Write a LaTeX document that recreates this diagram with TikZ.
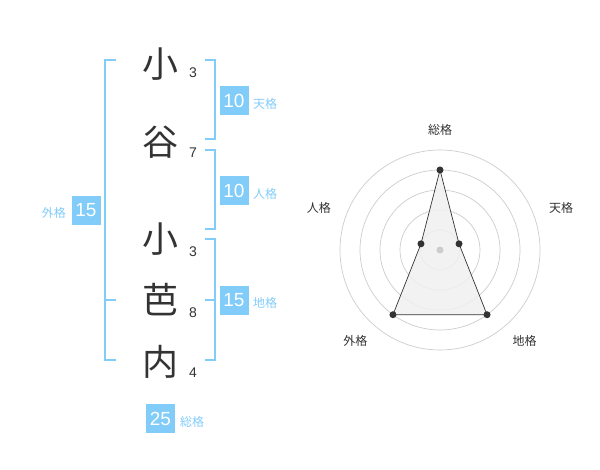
\documentclass[tikz,border=0pt]{standalone}
\usepackage{fontspec}
\setmainfont{Liberation Sans}
\newfontfamily\jpfont{Noto Sans CJK JP}
\usetikzlibrary{calc}
\definecolor{kakublue}{RGB}{130,204,250}
\definecolor{inkgray}{RGB}{51,51,51}
\definecolor{ringgray}{RGB}{204,204,204}
\definecolor{areagray}{RGB}{240,240,240}

\begin{document}
\begin{tikzpicture}[
    x=1pt, y=1pt,
    kanji/.style={inner sep=0pt, text=inkgray, font=\jpfont\fontsize{36}{36}\selectfont},
    stroke/.style={inner sep=0pt, text=inkgray, font=\fontsize{14}{14}\selectfont},
    bracket/.style={draw=kakublue, line width=2pt},
    kakubox/.style={fill=kakublue, text=white, minimum size=29pt, inner sep=0pt, font=\fontsize{19}{19}\selectfont},
    kakulabel/.style={inner sep=0pt, text=kakublue, font=\jpfont\fontsize{12}{12}\selectfont},
    radarlabel/.style={inner sep=0pt, text=inkgray, font=\jpfont\fontsize{12}{12}\selectfont},
    dot/.style={circle, fill=inkgray, inner sep=0pt, minimum size=7pt}
]
\useasboundingbox (0,0) rectangle (600,470);

\node[kanji] (sho) at (160,406) {小};
\node[kanji] (tani) at (160,328) {谷};
\node[kanji] (ko) at (160,231) {小};
\node[kanji] (ba) at (160,170) {芭};
\node[kanji] (nai) at (160,108) {内};

\node[stroke] (n1) at (193,397) {3};
\node[stroke] (n2) at (193,317) {7};
\node[stroke] (n3) at (193,218) {3};
\node[stroke] (n4) at (193,157) {8};
\node[stroke] (n5) at (193,97) {4};

\draw[bracket] (205,410) -- (215,410) -- (215,330.5) -- (205,330.5);
\draw[bracket] (205,320) -- (215,320) -- (215,240.5) -- (205,240.5);
\draw[bracket] (205,230.5) -- (215,230.5) -- (215,110) -- (205,110);
\draw[bracket] (205,170) -- (215,170);
\draw[bracket] (116,410) -- (105,410) -- (105,110) -- (116,110);
\draw[bracket] (105,170) -- (116,170);

\node[kakubox] (ten) at (234,369.5) {10};
\node[kakulabel, anchor=west] (tenl) at (253,366) {天格};
\node[kakubox] (jin) at (234,279.5) {10};
\node[kakulabel, anchor=west] (jinl) at (253,276) {人格};
\node[kakubox] (chi) at (234,169.5) {15};
\node[kakulabel, anchor=west] (chil) at (253,167) {地格};
\node[kakubox] (gai) at (86,259.5) {15};
\node[kakulabel, anchor=east] (gail) at (66,257) {外格};
\node[kakubox] (sou) at (160.5,51) {25};
\node[kakulabel, anchor=west] (soul) at (180,48) {総格};

\coordinate (o) at (440,220);
\foreach \r in {20,40,60,80,100}
    \draw[ringgray, line width=0.7pt] (o) circle (\r);

\coordinate (p1) at ($(o)+(90:80)$);
\coordinate (p2) at ($(o)+(18:20)$);
\coordinate (p3) at ($(o)+(-54:80)$);
\coordinate (p4) at ($(o)+(-126:80)$);
\coordinate (p5) at ($(o)+(162:20)$);
\draw[fill=areagray, fill opacity=0.85, draw=inkgray, line width=0.7pt] (p1) -- (p2) -- (p3) -- (p4) -- (p5) -- cycle;
\fill[ringgray] (o) circle (3.5);
\node[dot] (d1) at (p1) {};
\node[dot] (d2) at (p2) {};
\node[dot] (d3) at (p3) {};
\node[dot] (d4) at (p4) {};
\node[dot] (d5) at (p5) {};

\node[radarlabel] (r1) at ($(o)+(90:120)$) {総格};
\node[radarlabel] (r2) at ($(o)+(19:128)$) {天格};
\node[radarlabel] (r3) at ($(o)+(-47:124)$) {地格};
\node[radarlabel] (r4) at ($(o)+(-133:124)$) {外格};
\node[radarlabel] (r5) at ($(o)+(161:128)$) {人格};
\end{tikzpicture}
\end{document}
